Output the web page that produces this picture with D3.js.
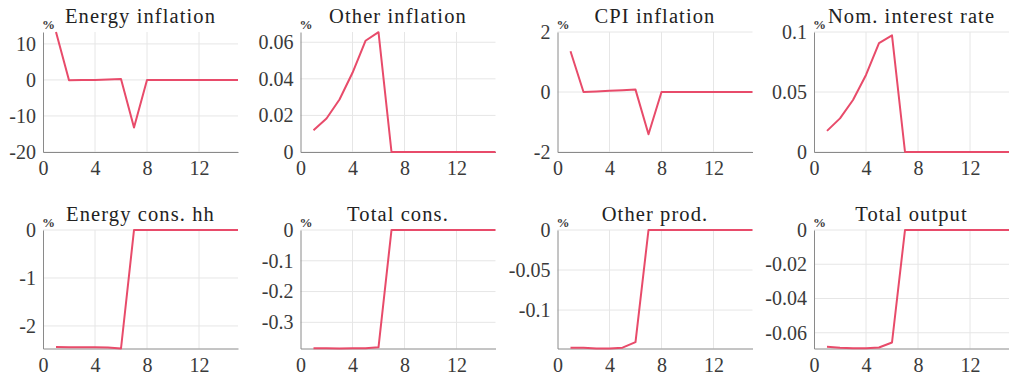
<!DOCTYPE html>
<html>
<head>
<meta charset="utf-8">
<script src="https://cdn.jsdelivr.net/npm/d3@7"></script>
<style>
  html, body { margin: 0; padding: 0; background: #fff; }
  svg { display: block; }
</style>
</head>
<body>
<svg id="chart" width="1009" height="381"></svg>
<script>
// Impulse responses, periods 1..15
const periods = [1, 2, 3, 4, 5, 6, 7, 8, 9, 10, 11, 12, 13, 14, 15];

const energyInflation = [13.3, -0.1, -0.05, 0, 0.15, 0.28, -13.2, 0, 0, 0, 0, 0, 0, 0, 0];
const otherInflation  = [0.0119, 0.0183, 0.0287, 0.0433, 0.0608, 0.0655, 0, 0, 0, 0, 0, 0, 0, 0, 0];
const cpiInflation    = [1.36, 0.0, 0.02, 0.04, 0.06, 0.08, -1.41, 0, 0, 0, 0, 0, 0, 0, 0];
const nomInterestRate = [0.0176, 0.028, 0.0433, 0.0642, 0.0908, 0.0972, 0, 0, 0, 0, 0, 0, 0, 0, 0];
const energyConsHh    = [-2.44, -2.445, -2.445, -2.445, -2.45, -2.47, 0, 0, 0, 0, 0, 0, 0, 0, 0];
const totalCons       = [-0.384, -0.384, -0.385, -0.384, -0.384, -0.381, 0, 0, 0, 0, 0, 0, 0, 0, 0];
const otherProd       = [-0.147, -0.147, -0.148, -0.148, -0.147, -0.140, 0, 0, 0, 0, 0, 0, 0, 0, 0];
const totalOutput     = [-0.0682, -0.0687, -0.069, -0.069, -0.0686, -0.0657, 0, 0, 0, 0, 0, 0, 0, 0, 0];

const titles = ["Energy inflation", "Other inflation", "CPI inflation", "Nom. interest rate",
                "Energy cons. hh", "Total cons.", "Other prod.", "Total output"];
const seriesList = [energyInflation, otherInflation, cpiInflation, nomInterestRate,
                    energyConsHh, totalCons, otherProd, totalOutput];
const yDomains = [[-20, 13.3], [0, 0.0656], [-2, 2], [0, 0.1],
                  [-2.47, 0], [-0.385, 0], [-0.148, 0], [-0.0692, 0]];
const yTickValues = [[-20, -10, 0, 10], [0, 0.02, 0.04, 0.06], [-2, 0, 2], [0, 0.05, 0.1],
                     [-2, -1, 0], [-0.3, -0.2, -0.1, 0], [-0.1, -0.05, 0], [-0.06, -0.04, -0.02, 0]];
const xDomain = [0, 15];
const xTickValues = [0, 4, 8, 12];
const unitLabel = "%";

// Panel geometry
const colLefts = [43, 300.5, 557.5, 814];
const panelW = 195;
const rowTops = [32, 230];
const panelH = [120, 118.5];

const lineColor = "#e84b6a";
const axisColor = "#8a8a8a";
const gridColor = "#e6e6e6";
const textColor = "#3a3a3a";
const serif = '"Liberation Serif", "Times New Roman", serif';

const svg = d3.select("#chart");
const fmt = v => String(+v.toFixed(4)).replace("\u2212", "-");

titles.forEach((title, i) => {
  const col = i % 4, row = Math.floor(i / 4);
  const left = colLefts[col], top = rowTops[row], h = panelH[row];

  const x = d3.scaleLinear().domain(xDomain).range([0, panelW]);
  const y = d3.scaleLinear().domain(yDomains[i]).range([h, 0]);

  const g = svg.append("g").attr("transform", `translate(${left},${top})`);

  // grid
  g.append("g").selectAll("line").data(xTickValues.filter(v => v > 0)).join("line")
    .attr("x1", d => x(d)).attr("x2", d => x(d)).attr("y1", 0).attr("y2", h)
    .attr("stroke", gridColor).attr("stroke-width", 1);
  g.append("g").selectAll("line").data(yTickValues[i]).join("line")
    .attr("x1", 0).attr("x2", panelW).attr("y1", d => y(d)).attr("y2", d => y(d))
    .attr("stroke", gridColor).attr("stroke-width", 1);

  // axes
  const xAxis = d3.axisBottom(x).tickValues(xTickValues).tickSize(0).tickPadding(9)
    .tickFormat(d => String(d));
  const yAxis = d3.axisLeft(y).tickValues(yTickValues[i]).tickSize(0).tickPadding(7)
    .tickFormat(fmt);

  const gx = g.append("g").attr("transform", `translate(0,${h})`).call(xAxis);
  const gy = g.append("g").call(yAxis);
  [gx, gy].forEach(a => {
    a.attr("font-family", null);
    a.select(".domain").attr("stroke", axisColor).attr("stroke-width", 1);
    a.selectAll("text").attr("fill", textColor)
      .style("font-family", serif).style("font-size", "20px");
  });
  gx.selectAll("text").attr("dy", "0.71em");

  // response line
  const line = d3.line().x((d, k) => x(periods[k])).y(d => y(d));
  g.append("path").datum(seriesList[i]).attr("d", line)
    .attr("fill", "none").attr("stroke", lineColor).attr("stroke-width", 2)
    .attr("stroke-linejoin", "round");

  // unit label
  g.append("text").attr("x", -1).attr("y", -3).text(unitLabel)
    .attr("fill", textColor)
    .style("font-family", serif).style("font-size", "13px").style("font-weight", "bold");

  // title
  g.append("text").attr("x", panelW / 2).attr("y", -9.5).attr("text-anchor", "middle")
    .attr("fill", "#222")
    .style("font-family", serif).style("font-size", "20.5px").style("letter-spacing", "1.1px")
    .text(title);
});
</script>
</body>
</html>
